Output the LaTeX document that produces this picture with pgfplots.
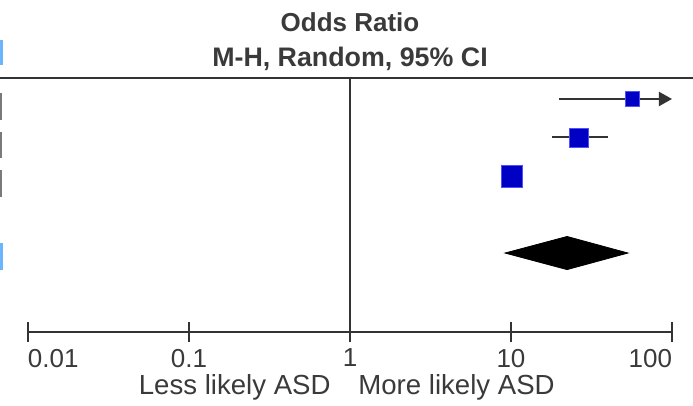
\documentclass[border=0pt]{standalone}
\usepackage{fontspec}
\setmainfont{Liberation Sans}
\usepackage{pgfplots}
\pgfplotsset{compat=1.18}
\usetikzlibrary{arrows.meta}
\definecolor{txt}{HTML}{3A3A3A}
\definecolor{ln}{HTML}{333333}
\definecolor{sq}{HTML}{0000C4}
\definecolor{sqedge}{HTML}{5050FF}
\definecolor{frag}{HTML}{7A7A7A}
\definecolor{fragblue}{HTML}{6BB5FF}
\begin{document}
\begin{tikzpicture}
\useasboundingbox (0,0) rectangle (346.5pt,203pt);
% cropped fragments of the table at the left edge
\fill[fragblue] (0,170.5pt) rectangle (1.6pt,183pt);
\fill[frag] (0,143pt) rectangle (1.2pt,156.5pt);
\fill[frag] (0,124pt) rectangle (1.2pt,137pt);
\fill[frag] (0,104.5pt) rectangle (1.2pt,118pt);
\fill[fragblue] (0,68pt) rectangle (1.6pt,81.5pt);
% header
\draw[ln, line width=1.1pt] (0,164pt) -- (346.5pt,164pt);
\node[txt, font=\fontsize{13}{15}\selectfont\bfseries] at (175pt,192pt) {Odds Ratio};
\node[txt, font=\fontsize{13.4}{15}\selectfont\bfseries] at (175pt,173.5pt) {M-H, Random, 95\% CI};
\node[txt, font=\fontsize{13.8}{15}\selectfont, anchor=east, inner sep=0pt] at (165.5pt,9.5pt) {Less likely ASD};
\node[txt, font=\fontsize{13.8}{15}\selectfont, anchor=west, inner sep=0pt] at (179pt,9.5pt) {More likely ASD};
\begin{axis}[
    at={(14pt,37pt)}, anchor=south west,
    scale only axis, width=322pt, height=127pt,
    xmode=log, xmin=0.01, xmax=100,
    ymin=-7.05, ymax=-0.455,
    axis x line*=bottom, axis y line=none,
    x axis line style={ln, line width=1pt},
    xtick={0.01,0.1,1,10,100},
    xticklabels={\makebox[0pt][l]{0.01},0.1,1,10,\makebox[0pt][r]{100}},
    minor x tick style={draw=none},
    tick align=center, major tick length=10pt,
    every tick/.style={ln, line width=1pt},
    xticklabel style={txt, font=\fontsize{13}{15}\selectfont},
    /pgf/number format/assume math mode=true,
    clip=false,
]
% line of no effect
\addplot[ln, line width=0.8pt] coordinates {(1,-7.05) (1,-0.455)};
% confidence intervals
\addplot[ln, line width=1pt, -{Triangle[length=6.5pt,width=7pt]}] coordinates {(19.9,-1) (100,-1)};
\addplot[ln, line width=1pt] coordinates {(18.0,-2) (40.0,-2)};
\addplot[ln, line width=1pt] coordinates {(9.2,-3) (11.0,-3)};
% study estimates
\addplot[only marks, mark=square*, mark size=3.6pt, mark options={fill=sq, draw=sqedge, line width=0.3pt}] coordinates {(56.5,-1)};
\addplot[only marks, mark=square*, mark size=4.7pt, mark options={fill=sq, draw=sqedge, line width=0.3pt}] coordinates {(26.3,-2)};
\addplot[only marks, mark=square*, mark size=5.4pt, mark options={fill=sq, draw=sqedge, line width=0.3pt}] coordinates {(10.1,-3)};
% pooled estimate
\addplot[fill=black, draw=black] coordinates {(9.18,-5) (22.3,-4.57) (53.3,-5) (22.3,-5.43)} -- cycle;
\end{axis}
\end{tikzpicture}
\end{document}
